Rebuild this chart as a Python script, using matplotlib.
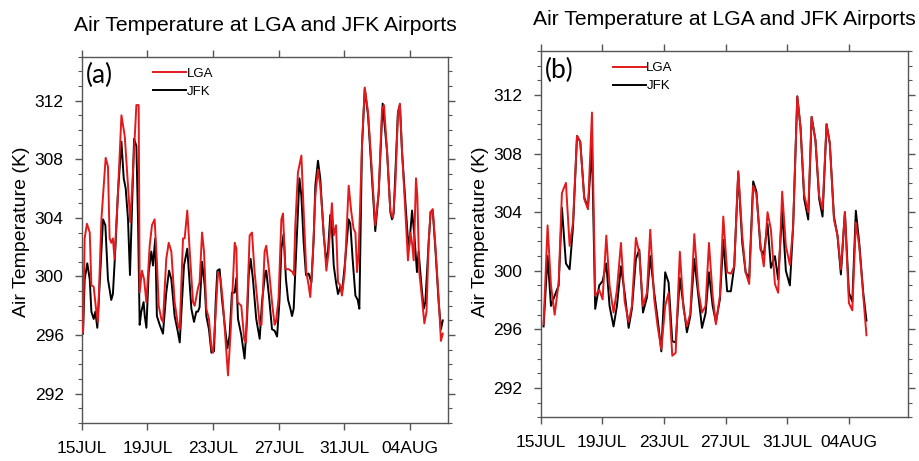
import numpy as np
import matplotlib
matplotlib.use("Agg")
import matplotlib.pyplot as plt
from matplotlib.ticker import MultipleLocator

# ---------------- data (days since 15JUL 00Z, temperature in K) ----------------
# panel (a): hourly-like curves, turning points
t_a_lga = [0.08, 0.18, 0.32, 0.49, 0.59, 0.73, 0.89, 0.99, 1.2, 1.46, 1.6, 1.7, 1.8, 1.9, 2.0,
           2.21, 2.42, 2.62, 2.82, 2.96, 3.13, 3.33, 3.47, 3.53, 3.67, 3.8, 3.94, 4.14, 4.28,
           4.44, 4.58, 4.69, 4.85, 4.95, 5.15, 5.3, 5.46, 5.66, 5.86, 5.97, 6.17, 6.27, 6.43,
           6.58, 6.78, 6.88, 7.08, 7.18, 7.33, 7.45, 7.59, 7.75, 7.9, 8.0, 8.14, 8.3, 8.46,
           8.6, 8.81, 8.91, 9.07, 9.32, 9.42, 9.49, 9.72, 9.9, 10.0, 10.23, 10.37, 10.53,
           10.84, 10.95, 11.14, 11.24, 11.42, 11.59, 11.75, 11.83, 11.99, 12.16, 12.26, 12.4,
           12.6, 12.85, 12.92, 13.01, 13.17, 13.38, 13.52, 13.68, 13.82, 13.92, 14.07, 14.23,
           14.39, 14.53, 14.74, 14.9, 15.04, 15.24, 15.35, 15.49, 15.61, 15.75, 15.85, 16.02,
           16.26, 16.42, 16.56, 16.67, 16.77, 16.87, 17.07, 17.24, 17.44, 17.68, 17.88, 18.09,
           18.29, 18.41, 18.6, 18.8, 18.96, 19.1, 19.26, 19.38, 19.51, 19.67, 19.87, 20.02,
           20.12, 20.22, 20.36, 20.44, 20.56, 20.69, 20.87, 21.0, 21.13, 21.25, 21.38, 21.54,
           21.74, 21.88, 21.99]
lga_a = [296.2, 302.6, 303.6, 303.0, 299.4, 299.3, 297.6, 296.9, 303.9, 308.1, 307.5, 302.6, 302.3,
         302.6, 301.2, 305.75, 311.0, 309.6, 306.2, 303.7, 307.3, 311.7, 311.7, 298.9, 300.4,
         299.8, 298.25, 302.1, 303.5, 303.9, 301.0, 298.0, 297.1, 296.9, 301.2, 302.3, 301.7,
         298.25, 296.7, 296.4, 302.6, 302.6, 304.5, 301.7, 298.25, 298.0, 299.2, 299.6, 303.0,
         301.7, 297.8, 297.1, 295.1, 294.8, 297.1, 300.3, 299.8, 298.25, 294.8, 293.25, 296.2,
         302.3, 301.9, 298.25, 298.0, 295.7, 295.5, 302.8, 303.0, 300.3, 296.7, 296.7, 301.7,
         302.1, 300.3, 298.25, 296.7, 296.9, 298.5, 303.9, 304.3, 300.5, 300.5, 300.3, 300.1,
         303.5, 307.1, 308.25, 304.4, 300.3, 299.4, 298.6, 301.2, 305.5, 307.3, 306.2, 303.0,
         300.4, 301.7, 305.0, 302.8, 303.5, 299.6, 299.4, 298.7, 300.3, 306.2, 304.4, 303.25,
         303.0, 300.3, 301.7, 308.9, 312.9, 311.2, 307.1, 303.5, 305.75, 311.4, 311.7, 308.5,
         304.4, 304.0, 306.2, 311.2, 311.8, 308.5, 305.3, 301.1, 303.0, 302.3, 301.1, 306.7,
         305.5, 300.3, 298.9, 296.8, 297.6, 302.3, 304.4, 304.6, 302.1, 298.5, 295.6, 296.1]

t_a_jfk = [0.08, 0.18, 0.34, 0.49, 0.59, 0.73, 0.83, 0.95, 1.09, 1.3, 1.44, 1.6, 1.8, 1.9, 2.05,
           2.21, 2.42, 2.56, 2.68, 2.82, 2.94, 3.19, 3.33, 3.43, 3.53, 3.63, 3.77, 3.84, 3.94,
           4.08, 4.24, 4.34, 4.48, 4.58, 4.75, 4.95, 5.15, 5.32, 5.46, 5.66, 5.86, 5.97, 6.23,
           6.43, 6.58, 6.68, 6.84, 6.98, 7.08, 7.18, 7.33, 7.49, 7.59, 7.75, 7.9, 8.06, 8.16,
           8.26, 8.4, 8.54, 8.71, 8.87, 9.01, 9.15, 9.32, 9.42, 9.52, 9.72, 9.92, 10.07, 10.17,
           10.29, 10.43, 10.63, 10.84, 10.98, 11.18, 11.24, 11.42, 11.59, 11.75, 11.9, 12.04,
           12.16, 12.3, 12.44, 12.57, 12.71, 12.81, 12.91, 13.01, 13.26, 13.38, 13.52, 13.66,
           13.82, 13.99, 14.13, 14.23, 14.39, 14.53, 14.74, 14.9, 15.0, 15.14, 15.24, 15.35,
           15.49, 15.61, 15.75, 15.85, 16.02, 16.26, 16.36, 16.5, 16.67, 16.81, 16.91, 17.07,
           17.24, 17.44, 17.68, 17.88, 18.09, 18.33, 18.6, 18.8, 18.9, 19.0, 19.26, 19.38,
           19.51, 19.71, 19.85, 19.95, 20.12, 20.26, 20.42, 20.52, 20.69, 20.83, 20.93, 21.13,
           21.25, 21.38, 21.54, 21.74, 21.88, 21.99]
jfk_a = [296.1, 299.8, 300.9, 299.8, 297.6, 297.1, 297.6, 296.5, 299.4, 303.9, 303.5, 299.8, 298.4,
         298.8, 301.9, 305.75, 309.2, 306.7, 306.0, 303.9, 300.1, 309.4, 308.9, 303.9, 296.7,
         297.6, 298.25, 297.3, 296.5, 300.3, 301.7, 300.75, 302.6, 297.3, 296.7, 296.1, 298.9,
         300.4, 299.8, 297.3, 296.2, 295.5, 300.75, 301.9, 299.4, 297.8, 296.9, 297.6, 297.6,
         297.9, 301.0, 299.4, 297.3, 296.4, 294.8, 294.9, 298.25, 300.4, 300.5, 298.5, 296.7,
         295.1, 296.0, 298.9, 298.9, 299.9, 297.1, 296.0, 294.4, 297.1, 300.1, 301.2, 299.8,
         297.1, 295.75, 298.25, 300.3, 300.4, 298.5, 296.4, 296.3, 295.9, 298.25, 301.9, 302.9,
         299.8, 298.4, 297.8, 297.3, 297.8, 300.3, 306.7, 305.5, 302.3, 300.1, 300.2, 299.6,
         302.6, 306.2, 307.9, 306.7, 302.8, 301.0, 301.7, 304.2, 303.25, 300.75, 299.6, 298.8,
         299.3, 298.9, 300.75, 303.9, 303.6, 301.2, 298.7, 298.4, 297.8, 308.9, 312.8, 311.0,
         306.7, 303.1, 305.75, 311.8, 308.5, 304.4, 303.9, 304.3, 311.2, 311.7, 308.5, 305.1,
         302.8, 302.1, 304.5, 302.8, 300.3, 301.7, 299.4, 297.8, 298.25, 302.3, 304.4, 304.5,
         301.9, 298.25, 296.4, 297.0]

# panel (b): coarser sampling, vertices
t_b = [0.19, 0.45, 0.67, 0.91, 1.17, 1.38, 1.64, 1.88, 2.1, 2.36, 2.57, 2.83, 3.07, 3.33, 3.54,
       3.8, 4.02, 4.26, 4.47, 4.73, 4.95, 5.21, 5.45, 5.71, 5.92, 6.18, 6.4, 6.64, 6.9, 7.11,
       7.37, 7.59, 7.83, 8.08, 8.3, 8.54, 8.76, 9.03, 9.27, 9.49, 9.71, 9.97, 10.23, 10.47,
       10.7, 10.92, 11.16, 11.37, 11.63, 11.85, 12.1, 12.34, 12.56, 12.82, 13.08, 13.3, 13.53,
       13.79, 14.0, 14.27, 14.48, 14.72, 14.94, 15.2, 15.41, 15.67, 15.91, 16.17, 16.38,
       16.65, 16.86, 17.1, 17.36, 17.58, 17.83, 18.07, 18.29, 18.55, 18.76, 19.03, 19.26,
       19.48, 19.74, 20.0, 20.22, 20.45, 20.67, 20.93, 21.14]
lga_b = [296.35, 303.1, 299.0, 297.0, 299.2, 305.3, 306.0, 301.7, 303.3, 309.2, 308.8, 304.9, 304.2,
         310.8, 298.3, 298.7, 298.05, 302.4, 299.0, 297.15, 298.7, 301.9, 297.9, 296.5, 297.6,
         302.25, 301.2, 297.6, 298.5, 302.8, 298.05, 296.2, 294.65, 297.6, 298.5, 294.2, 294.4,
         301.3, 297.4, 296.2, 297.1, 302.5, 298.7, 297.15, 297.6,
         301.9, 298.3, 296.35, 298.3, 303.7, 299.9, 299.8, 300.3, 306.8, 302.4, 299.9, 299.1,
         305.8, 305.2, 301.7, 300.3, 304.0, 302.8, 299.1, 298.5, 305.4, 301.7, 300.4, 303.0,
         311.9, 309.8, 305.2, 304.0, 310.5, 308.9, 305.1, 304.2, 310.0, 308.7, 303.5, 302.4,
         300.1, 304.0, 297.8, 297.3, 303.3, 301.7, 298.3, 295.6]
jfk_b = [296.2, 301.0, 297.6, 298.3, 299.0, 304.3, 300.5, 300.1, 303.0, 309.2, 308.8, 305.0, 304.3,
         308.5, 297.4, 299.0, 299.3, 300.5, 297.6, 296.2, 297.6, 300.3, 298.5, 296.1, 297.4,
         300.8, 301.45, 297.15, 298.2, 301.0, 298.5, 296.7, 294.5, 299.9, 299.2, 295.2, 295.1,
         299.5, 297.6, 295.8, 296.9, 300.8, 298.3, 296.1, 297.1,
         299.9, 297.6, 296.5, 298.05, 302.1, 298.6, 298.6, 300.3, 306.7, 301.9, 299.9, 299.5,
         306.1, 305.4, 301.45, 301.1, 303.2, 300.2, 301.0, 299.4, 304.1, 300.0, 299.0, 303.0,
         311.9, 309.8, 304.9, 303.5, 310.5, 308.9, 304.9, 303.7, 310.0, 308.7, 303.7, 302.4,
         299.75, 304.0, 298.5, 297.9, 304.1, 301.9, 298.5, 296.6]

tick_days = [0, 4, 8, 12, 16, 20]
tick_labels = ["15JUL", "19JUL", "23JUL", "27JUL", "31JUL", "04AUG"]
title = "Air Temperature at LGA and JFK Airports"

plt.rcParams["font.family"] = ["Liberation Sans", "DejaVu Sans"]

RED = "#e3191c"
AXC = "#555555"


def style_axes(ax, xmax, tag):
    ax.set_xlim(0, xmax)
    ax.set_ylim(290, 315)
    ax.set_xticks(tick_days)
    ax.set_xticklabels(tick_labels)
    ax.yaxis.set_minor_locator(MultipleLocator(1))
    ax.set_yticks([292, 296, 300, 304, 308, 312])
    ax.tick_params(which="both", direction="out", top=True, right=True, color=AXC)
    ax.tick_params(which="major", length=5, width=1.0, labelsize=12.5)
    ax.tick_params(which="minor", length=3, width=0.8)
    ax.tick_params(axis="y", which="major", pad=8)
    ax.tick_params(axis="x", which="major", pad=8)
    for s in ax.spines.values():
        s.set_color(AXC)
        s.set_linewidth(1.0)
    ax.text(0.012, 0.948, tag, transform=ax.transAxes, fontsize=19, family="Lato",
            ha="left", va="center")
    ax.legend(loc="upper left", bbox_to_anchor=(0.196, 0.97), frameon=False, fontsize=9.5,
              handlelength=2.5, handletextpad=0.05, labelspacing=0.45, borderpad=0,
              borderaxespad=0)


fig = plt.figure(figsize=(9.19, 4.61), dpi=100)
ax1 = fig.add_axes([0.0889, 0.0824, 0.3986, 0.7946])
ax2 = fig.add_axes([0.5883, 0.0948, 0.4000, 0.7946])

ax1.plot(t_a_lga, lga_a, color=RED, lw=1.4, label="LGA", zorder=3)
ax1.plot(t_a_jfk, jfk_a, color="black", lw=1.4, label="JFK", zorder=2)
style_axes(ax1, 22.31, "(a)")

ax2.plot(t_b, lga_b, color=RED, lw=1.4, label="LGA", zorder=3)
ax2.plot(t_b, jfk_b, color="black", lw=1.4, label="JFK", zorder=2)
style_axes(ax2, 23.85, "(b)")

fig.text(0.2885, 0.9334, title, ha="center", va="baseline", fontsize=15.2)
fig.text(0.7884, 0.9458, title, ha="center", va="baseline", fontsize=15.2)
fig.text(0.023, 0.497, "Air Temperature (K)", rotation=90, ha="center", va="center", fontsize=14)
fig.text(0.523, 0.497, "Air Temperature (K)", rotation=90, ha="center", va="center", fontsize=14)

fig.savefig("out.png", dpi=100)
